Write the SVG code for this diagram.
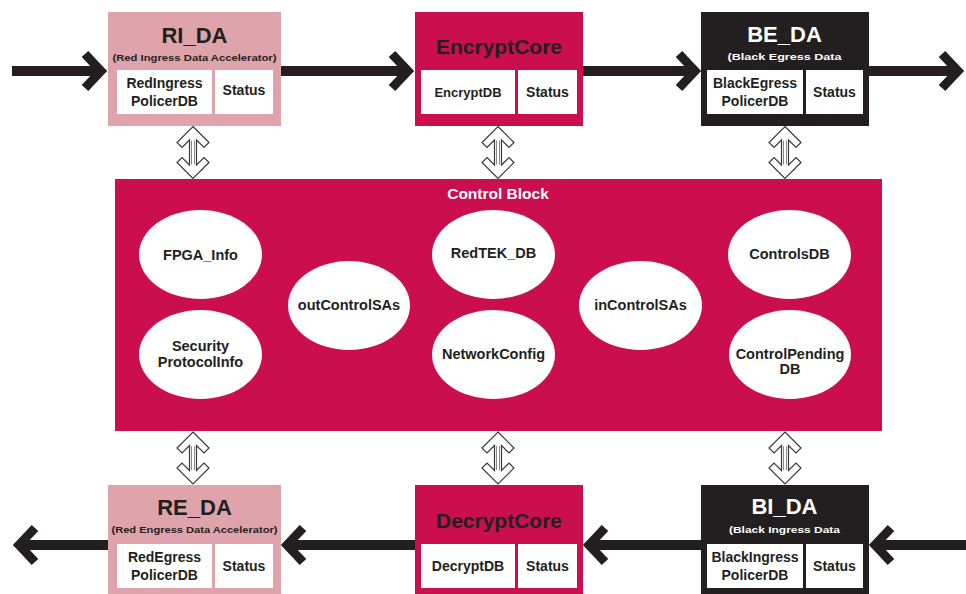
<svg xmlns="http://www.w3.org/2000/svg" width="966" height="594" viewBox="0 0 966 594">
  <style>
    text { font-family: "Liberation Sans", Arial, sans-serif; font-weight: bold; text-anchor: middle; fill: #231f20; }
    .pink { fill: #dea3ab; }
    .crim { fill: #cb0e4d; }
    .blk { fill: #231f20; }
    .cell { fill: #ffffff; }
    .title { font-size: 22px; }
    .core { font-size: 21px; }
    .sub { font-size: 9.5px; }
    .cell-t { font-size: 14px; }
    .cell-s { font-size: 13px; }
    .oval { fill: #ffffff; }
    .oval-t { font-size: 14.5px; }
    .flow { fill: none; stroke: #231f20; stroke-width: 10; }
    .head { fill: none; stroke: #231f20; stroke-width: 9; stroke-linejoin: miter; stroke-miterlimit: 10; }
    .dbl { fill: #ffffff; stroke: #3a3a3a; stroke-width: 1.2; stroke-linejoin: miter; }
    .dbl-core { fill: none; stroke: #6a6a6a; stroke-width: 0.8; }
  </style>
  <defs>
    <!-- open double-headed link arrow, 52 px tall, centred on x=0, top at y=0 -->
    <g id="link">
      <path class="dbl" d="M0,0 L16,16 L11,21 L3.5,13.5 L3.5,38.5 L11,31 L16,36 L0,52 L-16,36 L-11,31 L-3.5,38.5 L-3.5,13.5 L-11,21 L-16,16 Z"/>
      <path class="dbl-core" d="M-1.5,14 L-1.5,38 M1.5,14 L1.5,38"/>
    </g>
  </defs>

  <rect width="966" height="594" fill="#ffffff"/>

  <!-- Control Block -->
  <g id="control-block">
    <rect class="crim" x="115" y="179" width="767" height="252"/>
    <text x="498" y="199" font-size="15.5" style="fill:#ffffff">Control Block</text>
  </g>
  <g id="fpga-info">
    <ellipse class="oval" cx="200.5" cy="254.5" rx="61.5" ry="44.5"/>
    <text class="oval-t" x="200.5" y="260">FPGA_Info</text>
  </g>
  <g id="security-protocol-info">
    <ellipse class="oval" cx="200.5" cy="354.5" rx="61.5" ry="44.5"/>
    <text class="oval-t" x="200.5" y="351">Security</text>
    <text class="oval-t" x="200.5" y="367">ProtocolInfo</text>
  </g>
  <g id="out-control-sas">
    <ellipse class="oval" cx="349" cy="305.5" rx="61" ry="44.5"/>
    <text class="oval-t" x="349" y="310">outControlSAs</text>
  </g>
  <g id="redtek-db">
    <ellipse class="oval" cx="493.5" cy="254.5" rx="61.5" ry="44.5"/>
    <text class="oval-t" x="493.5" y="258">RedTEK_DB</text>
  </g>
  <g id="network-config">
    <ellipse class="oval" cx="493.5" cy="354.5" rx="61.5" ry="44.5"/>
    <text class="oval-t" x="493.5" y="359">NetworkConfig</text>
  </g>
  <g id="in-control-sas">
    <ellipse class="oval" cx="640.5" cy="305.5" rx="61.5" ry="44.5"/>
    <text class="oval-t" x="640.5" y="310">inControlSAs</text>
  </g>
  <g id="controls-db">
    <ellipse class="oval" cx="789.5" cy="254.5" rx="61.5" ry="44.5"/>
    <text class="oval-t" x="789.5" y="259">ControlsDB</text>
  </g>
  <g id="control-pending-db">
    <ellipse class="oval" cx="790" cy="354.5" rx="61" ry="44.5"/>
    <text class="oval-t" x="790" y="359">ControlPending</text>
    <text class="oval-t" x="790" y="374">DB</text>
  </g>

  <!-- Top row -->
  <g id="ri-da">
    <rect class="pink" x="108" y="12" width="173" height="114"/>
    <text class="title" x="194.5" y="43">RI_DA</text>
    <text class="sub" x="194.5" y="61" textLength="164" lengthAdjust="spacingAndGlyphs">(Red Ingress Data Accelerator)</text>
    <rect class="cell" x="117" y="70" width="95" height="44"/>
    <rect class="cell" x="215" y="70" width="58" height="44"/>
    <text class="cell-t" x="164.5" y="88">RedIngress</text>
    <text class="cell-t" x="164.5" y="106">PolicerDB</text>
    <text class="cell-t" x="244" y="95">Status</text>
  </g>
  <g id="encrypt-core">
    <rect class="crim" x="415" y="12" width="168" height="114"/>
    <text class="core" x="499" y="54">EncryptCore</text>
    <rect class="cell" x="421" y="70" width="94" height="44"/>
    <rect class="cell" x="518" y="70" width="59" height="44"/>
    <text class="cell-s" x="468" y="97">EncryptDB</text>
    <text class="cell-t" x="547.5" y="97">Status</text>
  </g>
  <g id="be-da">
    <rect class="blk" x="701" y="12" width="168" height="114"/>
    <text class="title" x="784.5" y="42" style="fill:#ffffff" font-size="23">BE_DA</text>
    <text class="sub" x="784.5" y="60" style="fill:#ffffff" textLength="114" lengthAdjust="spacingAndGlyphs">(Black Egress Data</text>
    <rect class="cell" x="707" y="70" width="96" height="44"/>
    <rect class="cell" x="806" y="70" width="57" height="44"/>
    <text class="cell-t" x="755" y="88">BlackEgress</text>
    <text class="cell-t" x="755" y="106">PolicerDB</text>
    <text class="cell-t" x="834.5" y="97">Status</text>
  </g>

  <!-- Bottom row -->
  <g id="re-da">
    <rect class="pink" x="108" y="485" width="173" height="115"/>
    <text class="title" x="194.5" y="515">RE_DA</text>
    <text class="sub" x="194.5" y="533" textLength="166" lengthAdjust="spacingAndGlyphs">(Red Engress Data Accelerator)</text>
    <rect class="cell" x="117" y="544" width="95" height="44"/>
    <rect class="cell" x="215" y="544" width="58" height="44"/>
    <text class="cell-t" x="164.5" y="562">RedEgress</text>
    <text class="cell-t" x="164.5" y="580">PolicerDB</text>
    <text class="cell-t" x="244" y="571">Status</text>
  </g>
  <g id="decrypt-core">
    <rect class="crim" x="415" y="485" width="168" height="115"/>
    <text class="core" x="499" y="528">DecryptCore</text>
    <rect class="cell" x="421" y="544" width="94" height="44"/>
    <rect class="cell" x="518" y="544" width="59" height="44"/>
    <text class="cell-t" x="468" y="571">DecryptDB</text>
    <text class="cell-t" x="547.5" y="571">Status</text>
  </g>
  <g id="bi-da">
    <rect class="blk" x="701" y="485" width="168" height="115"/>
    <text class="title" x="784.5" y="514" style="fill:#ffffff" font-size="23">BI_DA</text>
    <text class="sub" x="784.5" y="533" style="fill:#ffffff" textLength="111" lengthAdjust="spacingAndGlyphs">(Black Ingress Data</text>
    <rect class="cell" x="707" y="544" width="96" height="44"/>
    <rect class="cell" x="806" y="544" width="57" height="44"/>
    <text class="cell-t" x="755" y="562">BlackIngress</text>
    <text class="cell-t" x="755" y="580">PolicerDB</text>
    <text class="cell-t" x="834.5" y="571">Status</text>
  </g>

  <!-- Connectors -->
  <g id="connectors">
    <!-- egress data path, left to right -->
    <line class="flow" x1="12" y1="71" x2="100" y2="71"/>
    <polyline class="head" points="85,54 101,71 85,88"/>
    <line class="flow" x1="281" y1="71" x2="407" y2="71"/>
    <polyline class="head" points="392,54 408,71 392,88"/>
    <line class="flow" x1="583" y1="71" x2="694" y2="71"/>
    <polyline class="head" points="679,54 695,71 679,88"/>
    <line class="flow" x1="869" y1="71" x2="957" y2="71"/>
    <polyline class="head" points="942,54 958,71 942,88"/>

    <!-- ingress data path, right to left -->
    <line class="flow" x1="966" y1="545" x2="876" y2="545"/>
    <polyline class="head" points="891,528 875,545 891,562"/>
    <line class="flow" x1="701" y1="545" x2="590" y2="545"/>
    <polyline class="head" points="605,528 589,545 605,562"/>
    <line class="flow" x1="415" y1="545" x2="288" y2="545"/>
    <polyline class="head" points="303,528 287,545 303,562"/>
    <line class="flow" x1="108" y1="545" x2="20" y2="545"/>
    <polyline class="head" points="35,528 19,545 35,562"/>

    <!-- links to the Control Block -->
    <use href="#link" x="193" y="126.5"/>
    <use href="#link" x="498" y="126.5"/>
    <use href="#link" x="785" y="126.5"/>
    <use href="#link" x="193" y="432"/>
    <use href="#link" x="498" y="432"/>
    <use href="#link" x="785" y="432"/>
  </g>
</svg>
